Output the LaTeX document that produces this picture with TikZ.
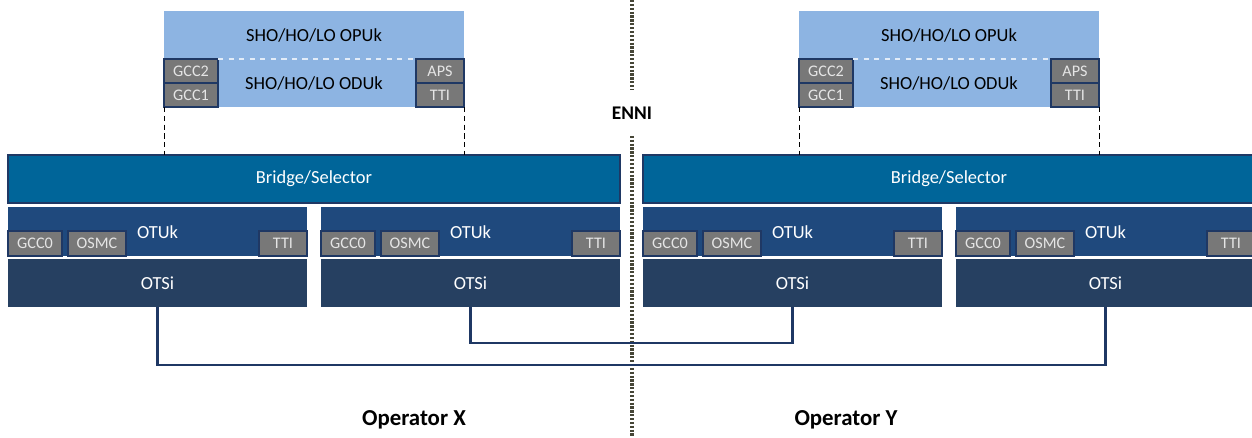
\documentclass[tikz,border=0pt]{standalone}
\usepackage{fontspec}
\setmainfont{Carlito}
\definecolor{opublue}{RGB}{141,180,226}
\definecolor{bridgeblue}{RGB}{0,101,153}
\definecolor{otublue}{RGB}{31,73,125}
\definecolor{otsiblue}{RGB}{38,64,97}
\definecolor{navy}{RGB}{31,56,100}
\definecolor{ohgray}{RGB}{120,120,120}
\definecolor{dotgray}{RGB}{70,70,55}
\tikzset{
  blk/.style 2 args={rectangle,inner sep=0pt,outer sep=0pt,anchor=north west,
    minimum width=#1*0.02cm,minimum height=#2*0.02cm},
  oh/.style={fill=ohgray,draw=navy,line width=0.6pt,text=white!90!black,
    font=\fontsize{9.2}{10}\selectfont},
  lbl/.style={font=\fontsize{10.5}{12}\selectfont},
  link/.style={draw=navy,line width=1.3pt},
  ennidots/.style={dotgray,line width=2pt,dash pattern=on 1.3pt off 0.9pt},
}
\begin{document}
\begin{tikzpicture}[x=0.02cm,y=-0.02cm]
\useasboundingbox (0,0) rectangle (1252,437);
\foreach \dx/\op in {0/X,635/Y}{
  % ODUk/OPUk with overhead
  \node[blk={300}{48},fill=opublue,lbl] (opuk\op) at (164+\dx,11) {SHO/HO/LO OPUk};
  \node[blk={300}{48},fill=opublue,lbl] (oduk\op) at (164+\dx,59) {SHO/HO/LO ODUk};
  \node[blk={54}{24},oh] (gcc2\op) at (164+\dx,59) {GCC2};
  \node[blk={54}{24},oh] (gcc1\op) at (164+\dx,83) {GCC1};
  \node[blk={48}{24},oh] (aps\op) at (416+\dx,59) {APS};
  \node[blk={48}{24},oh] (ttio\op) at (416+\dx,83) {TTI};
  \draw[white!75!opublue,dashed,line width=0.6pt] (gcc2\op.north east)--(aps\op.north west);
  % bridge
  \node[blk={612}{48},fill=bridgeblue,draw=navy,line width=1.2pt,text=white,lbl]
    (br\op) at (8+\dx,155) {Bridge/Selector};
  \draw[densely dashed,line width=0.5pt] (gcc1\op.south west)--(gcc1\op.south west |- br\op.north);
  \draw[densely dashed,line width=0.5pt] (ttio\op.south east)--(ttio\op.south east |- br\op.north);
  % OTUk + OTSi
  \foreach \ox/\k in {0/1,313/2}{
    \node[blk={299}{49},fill=otublue] (otu\op\k) at (8+\dx+\ox,207) {};
    \node[lbl,text=white] (otut\op\k) at (157.5+\dx+\ox,232) {OTUk};
    \node[blk={54}{25},oh] (gcc0\op\k) at (8+\dx+\ox,231) {GCC0};
    \node[blk={58}{25},oh] (osmc\op\k) at (68+\dx+\ox,231) {OSMC};
    \node[blk={48}{25},oh] (tti\op\k) at (259+\dx+\ox,231) {TTI};
    \node[blk={299}{48},fill=otsiblue,text=white,lbl] (otsi\op\k) at (8+\dx+\ox,259) {OTSi};
  }
}
% ENNI
\node[font=\bfseries\fontsize{11}{13}\selectfont,minimum height=0.9cm] (enni) at (632,113) {ENNI};
\coordinate (etop) at (632,0);
\coordinate (ebot) at (632,437);
\draw[ennidots] (etop)--(enni.north);
\draw[ennidots] (enni.south)--(ebot);
% links
\draw[link] (otsiX1.south)--++(0,58) -| (otsiY2.south);
\draw[link] (otsiX2.south)--++(0,36) -| (otsiY1.south);
\node[font=\bfseries\fontsize{13}{15}\selectfont] (opX) at (414,420) {Operator X};
\node[font=\bfseries\fontsize{13}{15}\selectfont] (opY) at (846,420) {Operator Y};
\end{tikzpicture}
\end{document}
